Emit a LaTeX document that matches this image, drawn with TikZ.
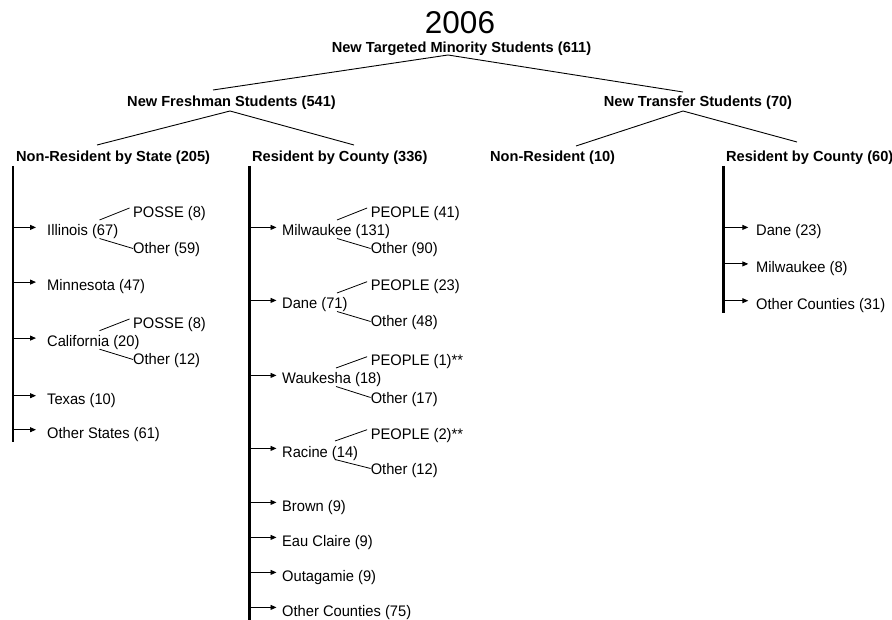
\documentclass[tikz,border=0pt]{standalone}
\usepackage{fontspec}
\setmainfont{Liberation Sans}
\newfontfamily\condf{Liberation Sans}[FakeStretch=0.96]
\usetikzlibrary{arrows.meta,calc}
\begin{document}
\begin{tikzpicture}[x=1pt,y=-1pt,
  txt/.style={inner sep=0pt,anchor=base west,font=\condf\fontsize{15.3}{17}\selectfont},
  hd/.style={inner sep=0pt,anchor=base,font=\fontsize{14.6}{17}\selectfont\bfseries},
  hdw/.style={hd,anchor=base west},
  yearlbl/.style={inner sep=0pt,anchor=base,font=\fontsize{31.5}{36}\selectfont},
  tree/.style={line width=0.9pt},
  bar/.style={line width=2.3pt},
  arr/.style={line width=0.9pt,-{Triangle[length=6pt,width=5pt]}},
  sub/.style={line width=0.8pt}]
\useasboundingbox (0,0) rectangle (892,620);
\newcommand\myarr[3]{\draw[arr] ($(#1.base west)+(#2,-8.6)$) -- ($(#1.base west)+(#3,-8.6)$);}
\newcommand\mysplit[4]{%
  \draw[sub] ($(#1.base west)+(#4,-16)$) -- ($(#2.base west)+(-3.5,-9.3)$);
  \draw[sub] ($(#1.base west)+(#4,2.5)$) -- ($(#3.base west)+(0,-5.5)$);}
% headings
\node[yearlbl] (yr) at (460,34) {2006};
\node[hd] (top) at (461.5,52.5) {New Targeted Minority Students (611)};
\node[hd] (fresh) at (231.5,107) {New Freshman Students (541)};
\node[hd] (trans) at (698,107) {New Transfer Students (70)};
\node[hdw] (nrs) at (16,162) {Non-Resident by State (205)};
\node[hdw] (rca) at (252,162) {Resident by County (336)};
\node[hdw] (nr) at (490,162) {Non-Resident (10)};
\node[hdw] (rcb) at (726,162) {Resident by County (60)};
% tree lines
\draw[tree] ($(fresh.base)+(-18.5,-17)$) -- ($(top.base)+(-13.5,2.5)$) -- ($(trans.base)+(-15,-15)$);
\draw[tree] ($(nrs.base west)+(81,-17)$) -- ($(fresh.base)+(-1.5,4)$) -- ($(rca.base west)+(102,-17)$);
\draw[tree] ($(nr.base west)+(86,-16)$) -- ($(trans.base)+(-15,4)$) -- ($(rcb.base west)+(71,-20)$);
% bars
\coordinate (b1t) at (13,166); \coordinate (b1b) at (13,442);
\coordinate (b2t) at (249.5,166); \coordinate (b2b) at (249.5,620);
\coordinate (b3t) at (723.5,166); \coordinate (b3b) at (723.5,313.5);
\draw[bar] (b1t) -- (b1b);
\draw[bar] (b2t) -- (b2b);
\draw[bar] (b3t) -- (b3b);
% left column
\node[txt] (ill) at (47,236) {Illinois (67)};
\node[txt] (possea) at (133,217.3) {POSSE (8)};
\node[txt] (otha) at (133,254) {Other (59)};
\node[txt] (minn) at (47,290.7) {Minnesota (47)};
\node[txt] (cal) at (47,346.7) {California (20)};
\node[txt] (posseb) at (133,328.3) {POSSE (8)};
\node[txt] (othb) at (133,365) {Other (12)};
\node[txt] (tex) at (47,404.3) {Texas (10)};
\node[txt] (ots) at (47,438.3) {Other States (61)};
\foreach \n in {ill,minn,cal,tex,ots} {\myarr{\n}{-34}{-11}}
\mysplit{ill}{possea}{otha}{52.5}
\mysplit{cal}{posseb}{othb}{52.5}
% middle column
\node[txt] (mil) at (282,236) {Milwaukee (131)};
\node[txt] (pea) at (370.6,217.3) {PEOPLE (41)};
\node[txt] (othc) at (370.6,254) {Other (90)};
\node[txt] (dane) at (282,309) {Dane (71)};
\node[txt] (peb) at (370.6,291) {PEOPLE (23)};
\node[txt] (othd) at (370.6,327) {Other (48)};
\node[txt] (wau) at (282,384) {Waukesha (18)};
\node[txt] (pec) at (370.6,366) {PEOPLE (1)**};
\node[txt] (othe) at (370.6,403) {Other (17)};
\node[txt] (rac) at (282,457) {Racine (14)};
\node[txt] (ped) at (370.6,439) {PEOPLE (2)**};
\node[txt] (othf) at (370.6,474) {Other (12)};
\node[txt] (brn) at (282,511) {Brown (9)};
\node[txt] (eau) at (282,546) {Eau Claire (9)};
\node[txt] (out) at (282,581) {Outagamie (9)};
\node[txt] (ocx) at (282,616) {Other Counties (75)};
\foreach \n in {mil,dane,wau,rac,brn,eau,out,ocx} {\myarr{\n}{-32.5}{-5.5}}
\mysplit{mil}{pea}{othc}{55}
\mysplit{dane}{peb}{othd}{55}
\mysplit{wau}{pec}{othe}{54}
\mysplit{rac}{ped}{othf}{53}
% right column
\node[txt] (daneb) at (756,236) {Dane (23)};
\node[txt] (milb) at (756,272.5) {Milwaukee (8)};
\node[txt] (ocy) at (756,309.3) {Other Counties (31)};
\foreach \n in {daneb,milb,ocy} {\myarr{\n}{-32.5}{-7.7}}
\end{tikzpicture}
\end{document}
